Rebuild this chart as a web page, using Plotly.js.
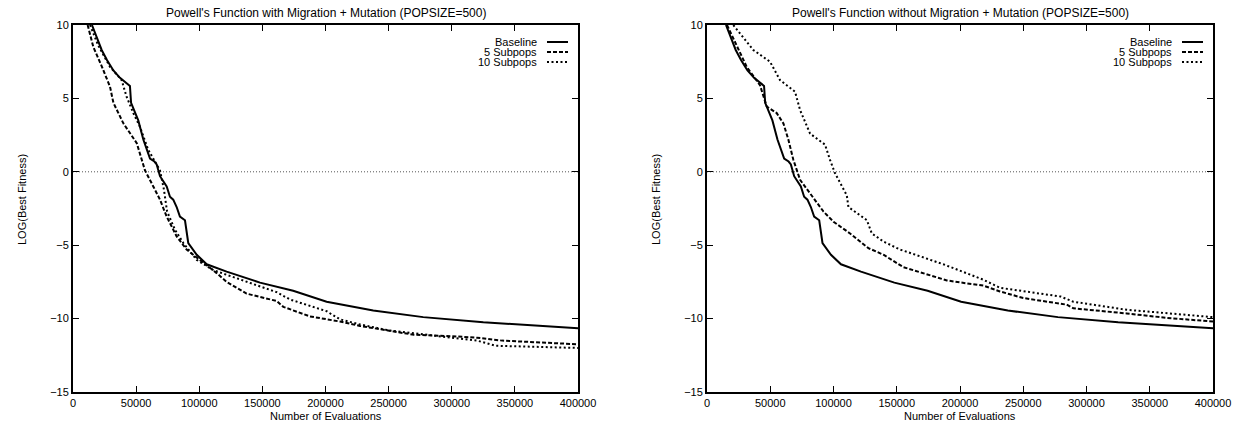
<!DOCTYPE html>
<html>
<head>
<meta charset="utf-8">
<script src="https://cdn.plot.ly/plotly-3.0.1.min.js"></script>
<style>html,body{margin:0;padding:0;background:#fff;}#chart{width:1241px;height:428px;}</style>
</head>
<body>
<div id="chart"></div>
<script>
// ---- data ----
var seriesNames = ["Baseline", "5 Subpops", "10 Subpops"];
var plotTitles = ["Powell's Function with Migration + Mutation (POPSIZE=500)",
                  "Powell's Function without Migration + Mutation (POPSIZE=500)"];
var xTitle = "Number of Evaluations";
var yTitle = "LOG(Best Fitness)";
var xTickVals = [0, 50000, 100000, 150000, 200000, 250000, 300000, 350000, 400000];
var yTickVals = [-15, -10, -5, 0, 5, 10];

var baselineX = [15000,22700,27000,32000,37200,45100,46000,51700,55700,61000,64500,66300,68900,74200,76800,79400,82100,84700,88700,91300,98000,105900,121700,140200,148100,174400,187700,200900,237800,277400,325000,372500,400000];
var baselineY = [10,8.3,7.6,6.9,6.4,5.85,4.7,3.5,2.2,0.9,0.7,0.5,-0.3,-1.0,-1.7,-1.9,-2.4,-3.05,-3.3,-4.85,-5.65,-6.3,-6.8,-7.35,-7.55,-8.1,-8.45,-8.85,-9.45,-9.9,-10.25,-10.5,-10.65];

var migr5X = [11600,16100,22700,29300,32000,39900,50500,57000,63600,68900,74200,82100,90000,100500,113800,121700,137500,161300,166600,187700,211500,227300,250000,270000,300000,320000,340000,360000,400000];
var migr5Y = [10,8.5,7.2,5.8,4.7,3.3,1.95,0.1,-1.0,-1.9,-3.05,-4.4,-5.3,-6.0,-6.9,-7.5,-8.3,-8.8,-9.2,-9.85,-10.2,-10.5,-10.8,-11.1,-11.2,-11.3,-11.5,-11.6,-11.75];

var migr10X = [13500,20000,29300,38500,42500,47800,53100,59600,68900,72000,74500,80800,87400,98000,111200,135000,161300,171900,200900,211500,227300,250000,280000,300000,320000,335000,360000,400000];
var migr10Y = [10,8.6,7.15,6.25,5.1,4.0,3.05,1.5,0.1,-1.2,-2.7,-3.95,-4.85,-6.0,-6.7,-7.4,-8.2,-8.7,-9.5,-10.05,-10.4,-10.8,-11.1,-11.3,-11.5,-11.85,-11.9,-12.0];

var nomig5X = [15800,24800,31400,41900,47200,55100,60400,64300,68300,73600,84000,92000,100000,113100,127600,139500,155300,179000,189600,205300,218400,231600,250000,284300,289600,331800,363400,400000];
var nomig5Y = [10,8.3,7.15,5.9,4.45,4.0,3.3,2.2,0.8,-0.55,-1.75,-2.7,-3.4,-4.2,-5.2,-5.65,-6.5,-7.1,-7.4,-7.6,-7.75,-8.15,-8.6,-9.05,-9.3,-9.65,-9.95,-10.2];

var nomig10X = [20800,36600,49800,57700,69600,73600,81500,93300,97300,101200,110500,111800,126400,130300,139500,152600,158000,186800,218400,231600,279600,289600,331800,363400,400000];
var nomig10Y = [10,8.3,7.5,6.25,5.45,4.2,2.6,1.85,0.8,-0.1,-1.6,-2.4,-3.3,-4.2,-4.75,-5.3,-5.45,-6.3,-7.35,-7.9,-8.5,-8.85,-9.4,-9.65,-9.9];

// ---- styling ----
var W = 1241, H = 428;
var FONT = "Liberation Sans, Arial, Helvetica, sans-serif";
var styles = [
  {color: "#000", width: 2, dash: "solid"},
  {color: "#000", width: 2, dash: "4px,2px"},
  {color: "#000", width: 2, dash: "2px,2.5px"}
];
var plotL = [73, 707], plotR = [578, 1213], plotT = 25, plotB = 392;

function tr(x, y, i, ax) {
  return {x: x, y: y, type: "scatter", mode: "lines", name: seriesNames[i],
          line: styles[i], xaxis: ax === 1 ? "x" : "x2", yaxis: ax === 1 ? "y" : "y2",
          showlegend: false, hoverinfo: "skip"};
}
var data = [
  tr(baselineX, baselineY, 0, 1), tr(migr5X, migr5Y, 1, 1), tr(migr10X, migr10Y, 2, 1),
  tr(baselineX, baselineY, 0, 2), tr(nomig5X, nomig5Y, 1, 2), tr(nomig10X, nomig10Y, 2, 2)
];

function xa(i) {
  return {domain: [plotL[i] / W, plotR[i] / W], range: [0, 400000], tickvals: xTickVals,
          tickformat: "d", ticks: "inside", ticklen: 6, tickwidth: 1, tickcolor: "#000",
          showline: true, linewidth: 2, linecolor: "#000", mirror: "ticks",
          showgrid: false, zeroline: false, fixedrange: true,
          tickfont: {family: FONT, size: 11, color: "#000"},
          anchor: i === 0 ? "y" : "y2"};
}
function ya(i) {
  return {domain: [1 - plotB / H, 1 - plotT / H], range: [-15, 10], tickvals: yTickVals,
          ticks: "inside", ticklen: 6, tickwidth: 1, tickcolor: "#000",
          showline: true, linewidth: 2, linecolor: "#000", mirror: "ticks",
          showgrid: false, zeroline: false, fixedrange: true,
          tickfont: {family: FONT, size: 11, color: "#000"},
          anchor: i === 0 ? "x" : "x2"};
}

var annotations = [], shapes = [];
for (var p = 0; p < 2; p++) {
  var cx = (plotL[p] + plotR[p]) / 2 / W;
  annotations.push({text: plotTitles[p], xref: "paper", yref: "paper", x: cx, y: 1 - 13 / H,
                    xanchor: "center", yanchor: "middle", showarrow: false,
                    font: {family: FONT, size: 12, color: "#000"}});
  annotations.push({text: xTitle, xref: "paper", yref: "paper", x: cx, y: 1 - 416 / H,
                    xanchor: "center", yanchor: "middle", showarrow: false,
                    font: {family: FONT, size: 11, color: "#000"}});
  annotations.push({text: yTitle, xref: "paper", yref: "paper", x: (plotL[p] - 51) / W, y: 1 - 200 / H,
                    xanchor: "center", yanchor: "middle", textangle: -90, showarrow: false,
                    font: {family: FONT, size: 11, color: "#000"}});
  // zero axis (dotted)
  shapes.push({type: "line", xref: p === 0 ? "x domain" : "x2 domain", yref: p === 0 ? "y" : "y2",
               x0: 0, x1: 1, y0: 0, y1: 0, line: {color: "#555", width: 1, dash: "1px,2px"}, layer: "below"});
  // legend
  for (var k = 0; k < 3; k++) {
    var yy = 1 - (42 + 10 * k) / H;
    annotations.push({text: seriesNames[k], xref: "paper", yref: "paper", x: (plotR[p] - 39) / W, y: yy,
                      xanchor: "right", yanchor: "middle", showarrow: false,
                      font: {family: FONT, size: 11, color: "#000"}});
    shapes.push({type: "line", xref: "paper", yref: "paper", x0: (plotR[p] - 31) / W, x1: (plotR[p] - 10) / W,
                 y0: yy, y1: yy, line: styles[k]});
  }
}

var layout = {
  width: W, height: H, margin: {l: 0, r: 0, t: 0, b: 0},
  paper_bgcolor: "#fff", plot_bgcolor: "#fff", showlegend: false,
  font: {family: FONT, size: 11, color: "#000"},
  xaxis: xa(0), yaxis: ya(0), xaxis2: xa(1), yaxis2: ya(1),
  annotations: annotations, shapes: shapes
};
Plotly.newPlot("chart", data, layout, {displayModeBar: false, staticPlot: true});
</script>
</body>
</html>
